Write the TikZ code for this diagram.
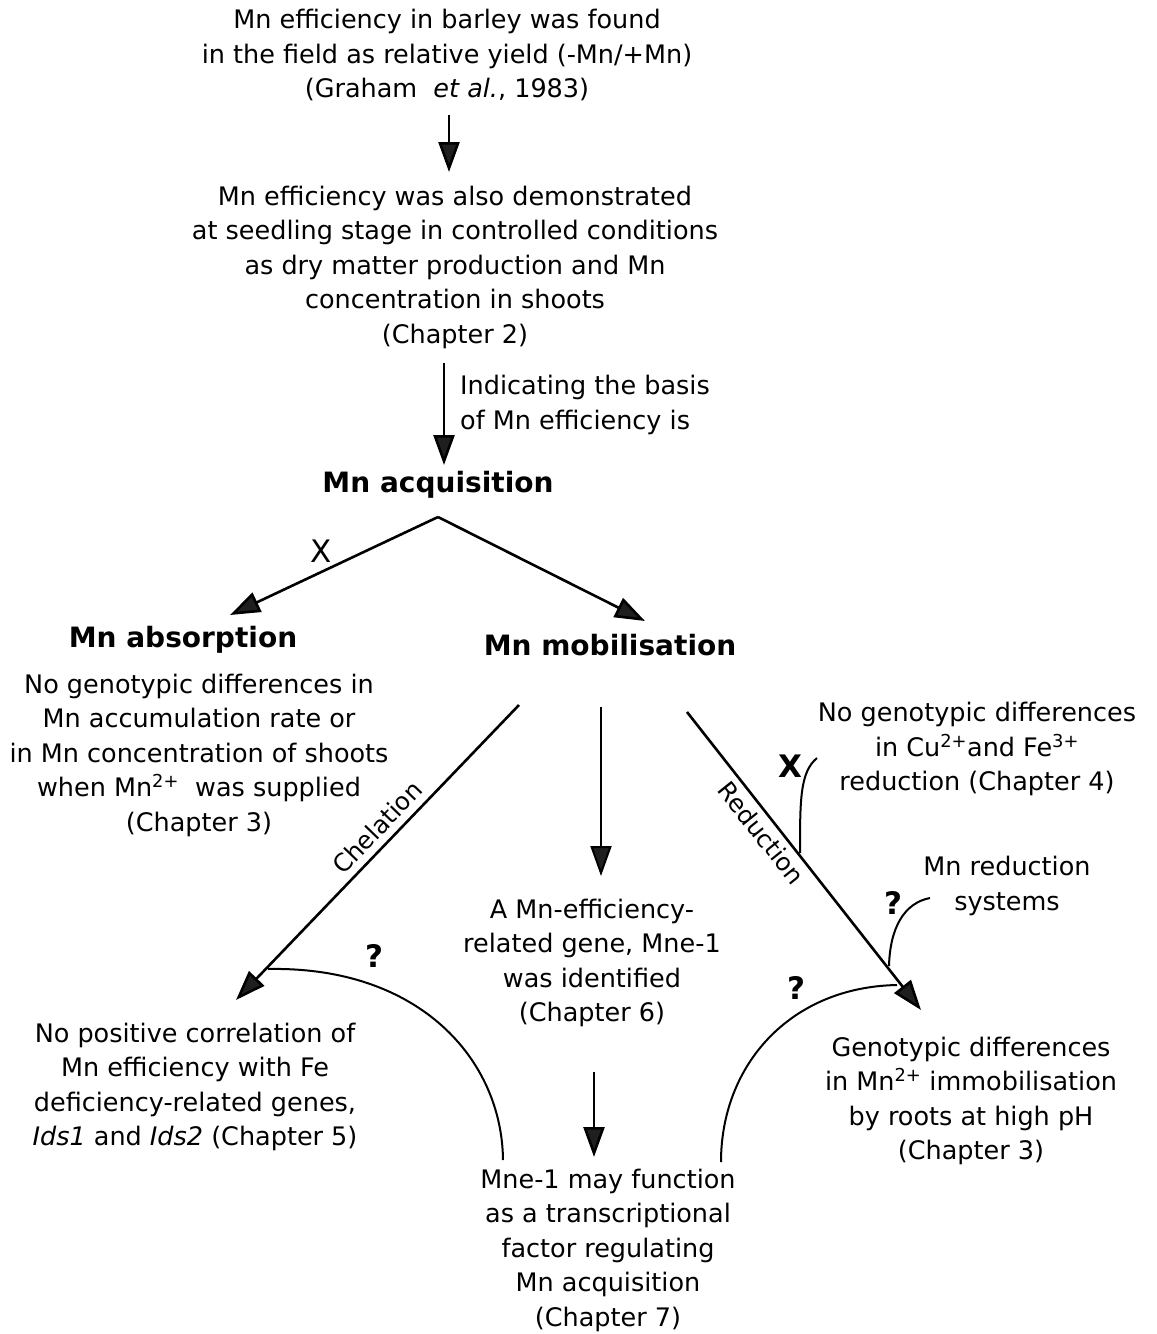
\documentclass[tikz,border=0pt]{standalone}
\usepackage{fontspec}
\setmainfont{DejaVu Sans}
\usetikzlibrary{arrows.meta}
\begin{document}
\begin{tikzpicture}[x=1pt,y=-1pt,
  txt/.style={align=center, inner sep=0pt, font=\fontsize{25.5}{34.5}\selectfont},
  head/.style={inner sep=0pt, font=\fontsize{28}{32}\selectfont\bfseries},
  sym/.style={inner sep=0pt, font=\fontsize{31}{34}\selectfont\bfseries},
  rlab/.style={inner sep=0pt, font=\fontsize{24.5}{28}\selectfont},
  arr/.style={line width=2.6pt, -{Triangle[length=30pt,width=21pt,fill=black!88]}},
  thinc/.style={line width=2pt}
]
\useasboundingbox (0,0) rectangle (1157,1334);

% text nodes
\node[txt] (t1) at (447,55) {Mn efficiency in barley was found\\in the field as relative yield (-Mn/+Mn)\\(Graham \ \textit{et al.}, 1983)};
\node[txt] (t2) at (455,267) {Mn efficiency was also demonstrated\\at seedling stage in controlled conditions\\as dry matter production and Mn\\concentration in shoots\\(Chapter 2)};
\node[txt, align=left, anchor=west] (lab) at (460,405) {Indicating the basis\\of Mn efficiency is};
\node[head] (acq) at (438,485) {Mn acquisition};
\node[head] (abs) at (183,640) {Mn absorption};
\node[head] (mob) at (610,645) {Mn mobilisation};
\node[txt] (absd) at (199,755) {No genotypic differences in\\Mn accumulation rate or\\in Mn concentration of shoots\\when Mn\textsuperscript{2+} \ was supplied\\(Chapter 3)};
\node[txt] (cu) at (977,749) {No genotypic differences\\in Cu\textsuperscript{2+}and Fe\textsuperscript{3+}\\reduction (Chapter 4)};
\node[txt] (mnr) at (1007,886) {Mn reduction\\systems};
\node[txt] (gene) at (592,963) {A Mn-efficiency-\\related gene, Mne-1\\was identified\\(Chapter 6)};
\node[txt] (ids) at (195,1087) {No positive correlation of\\Mn efficiency with Fe\\deficiency-related genes,\\\textit{Ids1} and \textit{Ids2} (Chapter 5)};
\node[txt] (imm) at (971,1101) {Genotypic differences\\in Mn\textsuperscript{2+} immobilisation\\by roots at high pH\\(Chapter 3)};
\node[txt] (mne) at (608,1250) {Mne-1 may function\\as a transcriptional\\factor regulating\\Mn acquisition\\(Chapter 7)};

% marks
\node[sym, font=\fontsize{31}{34}\selectfont] (x1) at (321,551) {X};
\node[sym] (x2) at (790,766) {X};
\node[sym] (q1) at (374,956) {?};
\node[sym] (q2) at (893,903) {?};
\node[sym] (q3) at (796,988) {?};

% connector points
\coordinate (a1s) at (449,115);
\coordinate (a1e) at (449,172);
\coordinate (a2s) at (444,363);
\coordinate (a2e) at (444,465);
\coordinate (apex) at (438,517);
\coordinate (absT) at (230,615);
\coordinate (mobT) at (645,621);
\coordinate (chS) at (519,705);
\coordinate (chE) at (236,1000);
\coordinate (mdS) at (601,707);
\coordinate (mdE) at (601,876);
\coordinate (rdS) at (687,712);
\coordinate (rdE) at (921,1010);
\coordinate (m2S) at (594,1072);
\coordinate (m2E) at (594,1157);

% arrows
\draw[arr] (a1s) -- (a1e);
\draw[arr] (a2s) -- (a2e);
\draw[arr] (apex) -- (absT);
\draw[arr] (apex) -- (mobT);
\draw[arr] (chS) -- (chE);
\draw[arr, line width=2pt] (mdS) -- (mdE);
\draw[arr] (rdS) -- (rdE);
\draw[arr] (m2S) -- (m2E);

% line labels
\node[rlab, rotate=46, anchor=south] (chel) at (384,834) {Chelation};
\node[rlab, rotate=-51.3, anchor=north] (red) at (769,827) {Reduction};

% curved connectors
\coordinate (cxS) at (817,758);
\coordinate (cxE) at (800,853);
\draw[thinc] (cxS) .. controls (800,772) and (800,800) .. (cxE);
\coordinate (cqS) at (930,898);
\coordinate (cqE) at (889,966);
\draw[thinc] (cqS) .. controls (904,903) and (890,928) .. (cqE);
\coordinate (clS) at (268,969);
\coordinate (clE) at (503,1160);
\draw[thinc] (clS) .. controls (420,966) and (502,1060) .. (clE);
\coordinate (crS) at (897,985);
\coordinate (crE) at (721,1162);
\draw[thinc] (crS) .. controls (790,987) and (721,1065) .. (crE);
\end{tikzpicture}
\end{document}
